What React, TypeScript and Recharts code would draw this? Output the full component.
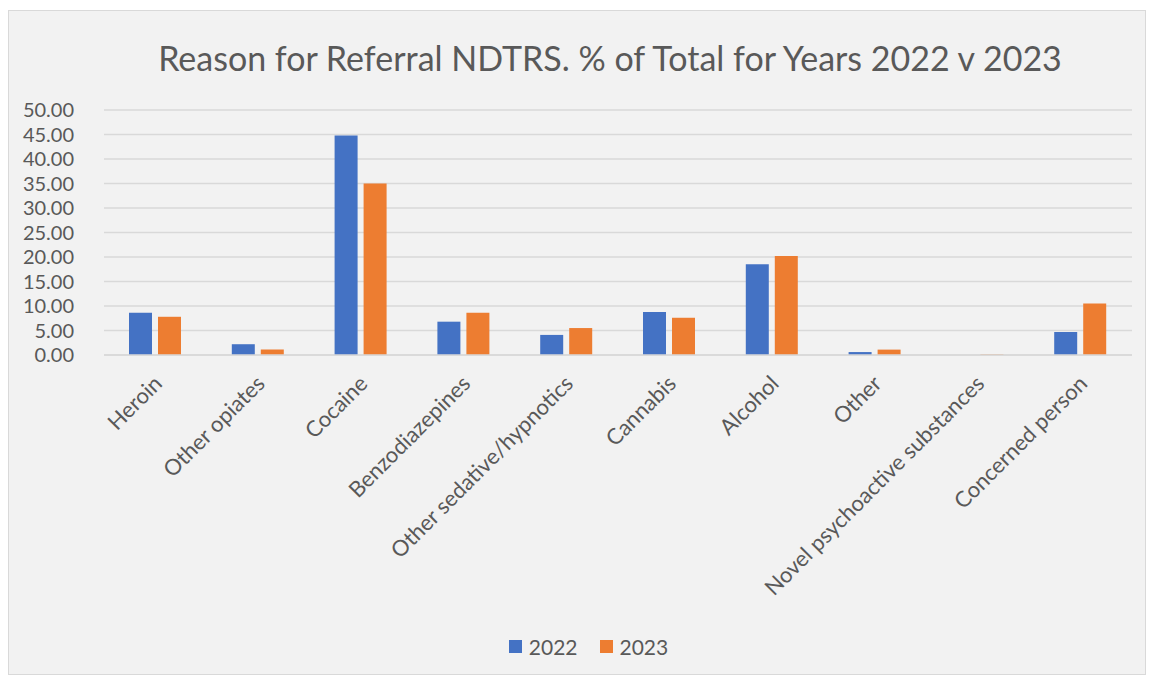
import { BarChart, Bar, XAxis, YAxis, CartesianGrid, Legend } from "recharts";

const categories = [
  "Heroin",
  "Other opiates",
  "Cocaine",
  "Benzodiazepines",
  "Other sedative/hypnotics",
  "Cannabis",
  "Alcohol",
  "Other",
  "Novel psychoactive substances",
  "Concerned person",
];
const values2022 = [8.6, 2.2, 44.8, 6.8, 4.1, 8.8, 18.5, 0.6, 0, 4.7];
const values2023 = [7.8, 1.1, 35.0, 8.6, 5.5, 7.6, 20.2, 1.1, 0.1, 10.5];
const yTicks = [0, 5, 10, 15, 20, 25, 30, 35, 40, 45, 50];

const data = categories.map((name, i) => ({
  name,
  "2022": values2022[i],
  "2023": values2023[i],
}));

const FONT = "Lato, 'Open Sans', sans-serif";
const TEXT = "#595959";

function XTick(props: any) {
  const { x, y, payload } = props;
  return (
    <g transform={`translate(${x + 8},${y + 22})`}>
      <text textAnchor="end" transform="rotate(-45)" fontSize={22} fill={TEXT} fontFamily={FONT}>
        {payload.value}
      </text>
    </g>
  );
}

function LegendContent() {
  const items = [
    { label: "2022", color: "#4472C4" },
    { label: "2023", color: "#ED7D31" },
  ];
  return (
    <div
      style={{
        display: "flex",
        justifyContent: "center",
        gap: 22,
        paddingLeft: 36,
        fontFamily: FONT,
        fontSize: 21,
        color: TEXT,
      }}
    >
      {items.map((it) => (
        <div key={it.label} style={{ display: "flex", alignItems: "center", gap: 7 }}>
          <span style={{ width: 13, height: 13, background: it.color, display: "inline-block" }} />
          <span>{it.label}</span>
        </div>
      ))}
    </div>
  );
}

export default function App() {
  return (
    <div
      style={{
        position: "relative",
        width: 1138,
        height: 665,
        marginTop: 2,
        background: "#f2f2f2",
        border: "1px solid #d9d9d9",
        boxSizing: "border-box",
      }}
    >
      <div
        style={{
          position: "absolute",
          top: 26,
          left: 66,
          right: 0,
          textAlign: "center",
          fontFamily: FONT,
          fontSize: 34,
          color: TEXT,
        }}
      >
        Reason for Referral NDTRS. % of Total for Years 2022 v 2023
      </div>
      <BarChart
        width={1136}
        height={663}
        data={data}
        margin={{ top: 99, right: 13, left: 0, bottom: 0 }}
        barSize={23}
        barGap={6}
      >
        <CartesianGrid vertical={false} stroke="#d9d9d9" strokeWidth={1.5} />
        <XAxis
          dataKey="name"
          interval={0}
          tick={<XTick />}
          tickLine={false}
          axisLine={{ stroke: "#d9d9d9", strokeWidth: 1.5 }}
          height={279}
        />
        <YAxis
          domain={[0, 50]}
          ticks={yTicks}
          interval={0}
          tickFormatter={(v: number) => v.toFixed(2)}
          width={95}
          axisLine={false}
          tickLine={false}
          tickMargin={24}
          tick={{ fontSize: 20, fill: TEXT, fontFamily: FONT }}
        />
        <Legend verticalAlign="bottom" height={40} content={<LegendContent />} />
        <Bar dataKey="2022" fill="#4472C4" isAnimationActive={false} />
        <Bar dataKey="2023" fill="#ED7D31" isAnimationActive={false} />
      </BarChart>
    </div>
  );
}
